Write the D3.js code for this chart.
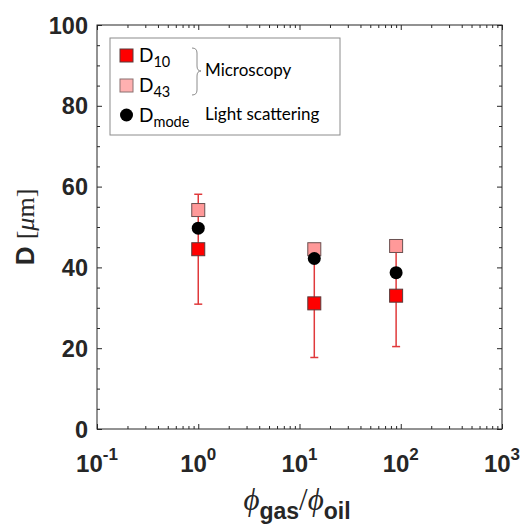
<!DOCTYPE html>
<html><head><meta charset="utf-8">
<script src="https://cdn.jsdelivr.net/npm/d3@7"></script>
<style>body{margin:0;background:#fff}svg{display:block}</style>
</head><body>
<svg id="c" width="522" height="525"></svg>
<script>
// ---- data ----
const ratio = [1, 14, 90];                 // phi_gas / phi_oil
const D10 = [44.5, 31.1, 33.0];
const D10err = [13.6, 13.4, 12.6];
const D43 = [54.2, 44.5, 45.3];
const Dmode = [49.7, 42.2, 38.7];
const xMajor = [0.1, 1, 10, 100, 1000];
const xExp = ["-1", "0", "1", "2", "3"];
const yMajor = [0, 20, 40, 60, 80, 100];

const svg = d3.select("#c");
const L = 97, R = 502, T = 25, B = 429;
const x = d3.scaleLog().domain([0.1, 1000]).range([L, R]);
const y = d3.scaleLinear().domain([0, 100]).range([B, T]);

const xMinor = [];
for (let e = -1; e < 3; e++) for (let k = 2; k <= 9; k++) xMinor.push(k * Math.pow(10, e));
const yMinor = d3.range(0, 101, 5).filter(v => v % 20 !== 0);

const axisColor = "#262626";
function styleAxis(g) {
  g.select(".domain").remove();
  g.selectAll("line").attr("stroke", axisColor).attr("stroke-width", 1);
  g.selectAll("text").remove();
}
svg.append("g").attr("transform", `translate(0,${B})`).call(d3.axisBottom(x).tickValues(xMinor).tickSize(-3).tickFormat("")).call(styleAxis);
svg.append("g").attr("transform", `translate(0,${B})`).call(d3.axisBottom(x).tickValues(xMajor).tickSize(-5).tickFormat("")).call(styleAxis);
svg.append("g").attr("transform", `translate(0,${T})`).call(d3.axisTop(x).tickValues(xMinor).tickSize(-3).tickFormat("")).call(styleAxis);
svg.append("g").attr("transform", `translate(0,${T})`).call(d3.axisTop(x).tickValues(xMajor).tickSize(-5).tickFormat("")).call(styleAxis);
svg.append("g").attr("transform", `translate(${L},0)`).call(d3.axisLeft(y).tickValues(yMinor).tickSize(-3).tickFormat("")).call(styleAxis);
svg.append("g").attr("transform", `translate(${L},0)`).call(d3.axisLeft(y).tickValues(yMajor).tickSize(-5).tickFormat("")).call(styleAxis);
svg.append("g").attr("transform", `translate(${R},0)`).call(d3.axisRight(y).tickValues(yMinor).tickSize(-3).tickFormat("")).call(styleAxis);
svg.append("g").attr("transform", `translate(${R},0)`).call(d3.axisRight(y).tickValues(yMajor).tickSize(-5).tickFormat("")).call(styleAxis);
svg.append("rect").attr("x", L).attr("y", T).attr("width", R - L).attr("height", B - T)
  .attr("fill", "none").attr("stroke", axisColor).attr("stroke-width", 1);

// y tick labels
svg.append("g").selectAll("text").data(yMajor).join("text")
  .attr("x", L - 9).attr("y", d => y(d) + 8.5)
  .attr("text-anchor", "end").attr("font-family", "Liberation Sans, Arial, sans-serif")
  .attr("font-weight", "bold").attr("font-size", 23.5).attr("fill", "#262626")
  .text(d => d);

// x tick labels with superscripts
const xl = svg.append("g").selectAll("text").data(xMajor).join("text")
  .attr("x", d => x(d)).attr("y", 472)
  .attr("text-anchor", "middle").attr("font-family", "Liberation Sans, Arial, sans-serif")
  .attr("font-weight", "bold").attr("font-size", 24).attr("fill", "#262626");
xl.append("tspan").text("10");
xl.append("tspan").attr("dy", -12).attr("font-size", 17).text((d, i) => xExp[i]);

// axis labels
const yl = svg.append("text").attr("transform", `translate(34,${(T + B) / 2}) rotate(-90)`)
  .attr("text-anchor", "middle").attr("font-size", 26).attr("fill", "#262626");
yl.append("tspan").attr("font-family", "Liberation Sans, Arial, sans-serif").attr("font-weight", "bold").text("D ");
yl.append("tspan").attr("font-family", "Liberation Serif, Times New Roman, serif").text("[");
yl.append("tspan").attr("font-family", "Liberation Serif, Times New Roman, serif").attr("font-style", "italic").text("μ");
yl.append("tspan").attr("font-family", "Liberation Serif, Times New Roman, serif").text("m]");

const xt = svg.append("text").attr("x", 297).attr("y", 510).attr("text-anchor", "middle").attr("fill", "#262626");
xt.append("tspan").attr("font-family", "Liberation Serif, serif").attr("font-style", "italic").attr("font-size", 31).text("ϕ");
xt.append("tspan").attr("font-family", "Liberation Sans, Arial, sans-serif").attr("font-weight", "bold").attr("font-size", 23).attr("dy", 9).text("gas");
xt.append("tspan").attr("font-family", "Liberation Serif, serif").attr("font-size", 31).attr("dy", -9).text("/");
xt.append("tspan").attr("font-family", "Liberation Serif, serif").attr("font-style", "italic").attr("font-size", 31).text("ϕ");
xt.append("tspan").attr("font-family", "Liberation Sans, Arial, sans-serif").attr("font-weight", "bold").attr("font-size", 23).attr("dy", 9).text("oil");

// ---- marks ----
const pts = ratio.map((r, i) => ({ r, d10: D10[i], e: D10err[i], d43: D43[i], dm: Dmode[i] }));
const errColor = "#e0393b";
const eb = svg.append("g").attr("stroke", errColor).attr("stroke-width", 1.5);
eb.selectAll("line.v").data(pts).join("line").attr("class", "v")
  .attr("x1", d => x(d.r)).attr("x2", d => x(d.r))
  .attr("y1", d => y(d.d10 - d.e)).attr("y2", d => y(d.d10 + d.e));
eb.selectAll("line.lo").data(pts).join("line").attr("class", "lo")
  .attr("x1", d => x(d.r) - 4).attr("x2", d => x(d.r) + 4)
  .attr("y1", d => y(d.d10 - d.e)).attr("y2", d => y(d.d10 - d.e));
eb.selectAll("line.hi").data(pts).join("line").attr("class", "hi")
  .attr("x1", d => x(d.r) - 4).attr("x2", d => x(d.r) + 4)
  .attr("y1", d => y(d.d10 + d.e)).attr("y2", d => y(d.d10 + d.e));

const S = 13;
svg.append("g").selectAll("rect").data(pts).join("rect")
  .attr("x", d => x(d.r) - S / 2).attr("y", d => y(d.d10) - S / 2)
  .attr("width", S).attr("height", S).attr("fill", "#ff0000").attr("stroke", "#5a3a3a").attr("stroke-width", 1);
svg.append("g").selectAll("rect").data(pts).join("rect")
  .attr("x", d => x(d.r) - S / 2).attr("y", d => y(d.d43) - S / 2)
  .attr("width", S).attr("height", S).attr("fill", "#ff9999").attr("stroke", "#6a5050").attr("stroke-width", 1);
svg.append("g").selectAll("circle").data(pts).join("circle")
  .attr("cx", d => x(d.r)).attr("cy", d => y(d.dm)).attr("r", 6.5).attr("fill", "#000");

// ---- legend ----
const lg = svg.append("g");
lg.append("rect").attr("x", 110).attr("y", 38).attr("width", 230).attr("height", 97)
  .attr("fill", "#fff").attr("stroke", "#8c8c8c").attr("stroke-width", 1);
lg.append("rect").attr("x", 120).attr("y", 49).attr("width", 13).attr("height", 13).attr("fill", "#ff0000").attr("stroke", "#5a3a3a");
lg.append("rect").attr("x", 120).attr("y", 79).attr("width", 13).attr("height", 13).attr("fill", "#ffb0b0").attr("stroke", "#8a7070");
lg.append("circle").attr("cx", 126.5).attr("cy", 115).attr("r", 6.5).attr("fill", "#000");
const labs = [["D", "10", 62], ["D", "43", 92], ["D", "mode", 122]];
labs.forEach(([a, b, yy]) => {
  const t = lg.append("text").attr("x", 139).attr("y", yy).attr("font-family", "Lato, sans-serif").attr("font-size", 19).attr("fill", "#000");
  t.append("tspan").text(a);
  t.append("tspan").attr("font-size", 14.5).attr("dy", 5).text(b);
});
lg.append("text").attr("x", 205).attr("y", 76).attr("font-family", "Lato, sans-serif").attr("font-size", 17).text("Microscopy");
lg.append("text").attr("x", 205).attr("y", 120).attr("font-family", "Lato, sans-serif").attr("font-size", 17).text("Light scattering");
lg.append("path").attr("d", "M192,48 Q197,48 197,53 L197,66 Q197,71 201,71 Q197,71 197,76 L197,90 Q197,95 192,95")
  .attr("fill", "none").attr("stroke", "#8c8c8c").attr("stroke-width", 1);
</script>
</body></html>
